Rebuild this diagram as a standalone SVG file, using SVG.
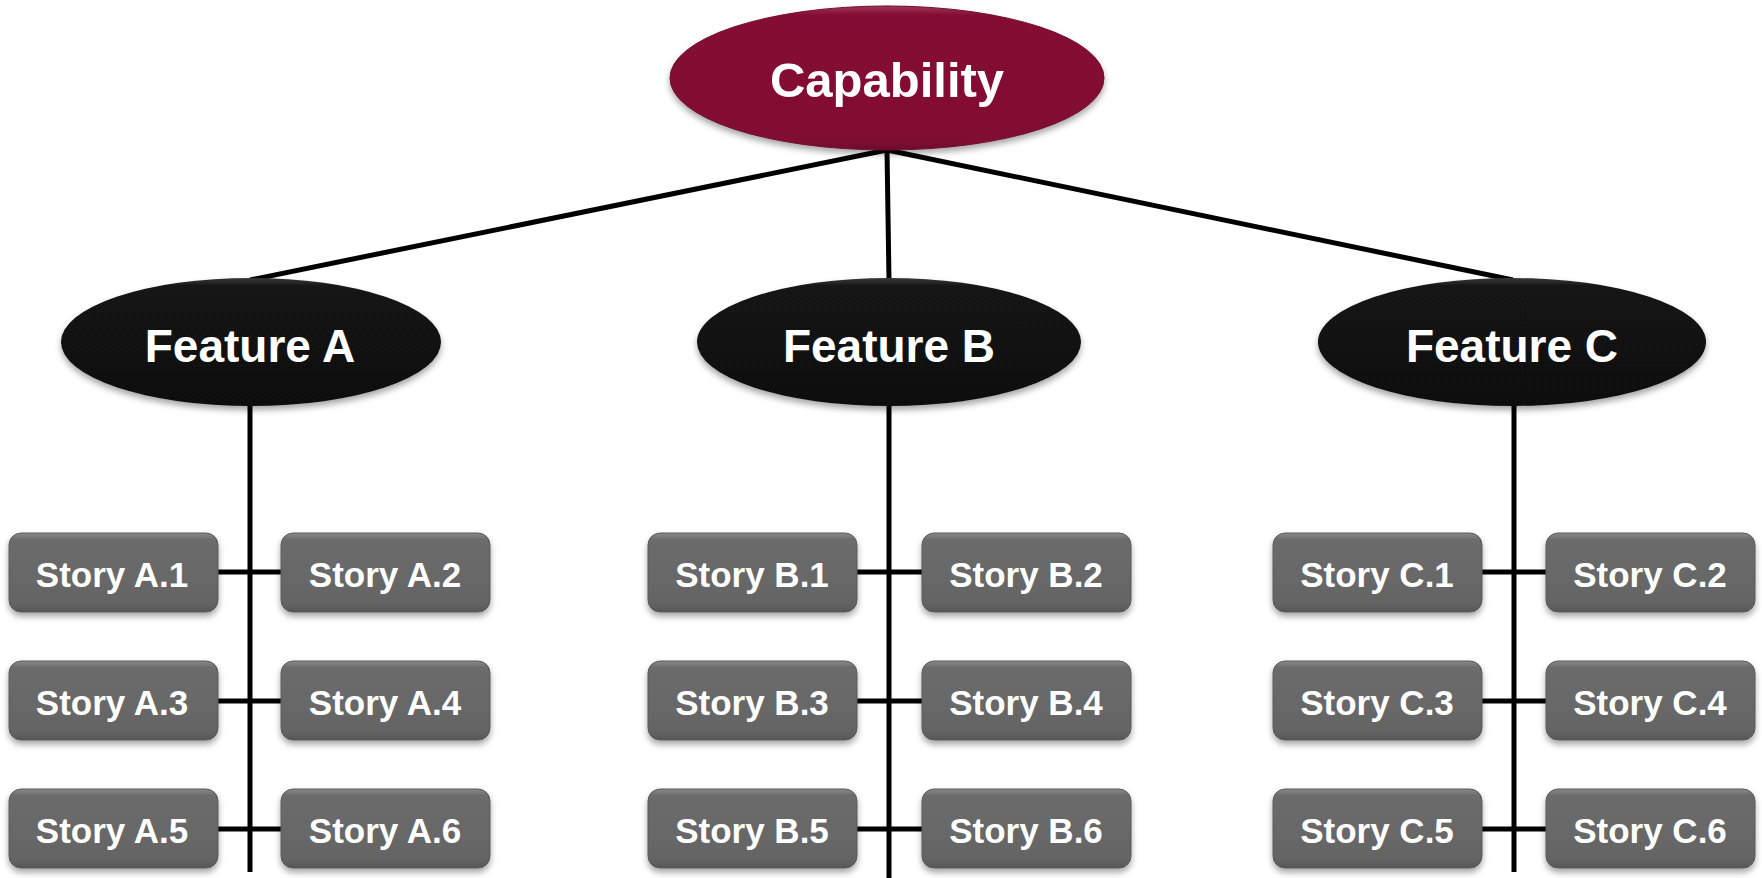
<svg xmlns="http://www.w3.org/2000/svg" width="1762" height="878" viewBox="0 0 1762 878">
<defs>
<linearGradient id="gBox" x1="0" y1="0" x2="0" y2="1">
<stop offset="0" stop-color="#8a8a8a"/>
<stop offset="0.08" stop-color="#6c6c6c"/>
<stop offset="0.9" stop-color="#646464"/>
<stop offset="1" stop-color="#555"/>
</linearGradient>
<linearGradient id="gCap" x1="0" y1="0" x2="0" y2="1">
<stop offset="0" stop-color="#a0365a"/>
<stop offset="0.06" stop-color="#850f34"/>
<stop offset="0.94" stop-color="#820e32"/>
<stop offset="1" stop-color="#6a0b29"/>
</linearGradient>
<linearGradient id="gFeat" x1="0" y1="0" x2="0" y2="1">
<stop offset="0" stop-color="#3a3a3a"/>
<stop offset="0.07" stop-color="#121212"/>
<stop offset="1" stop-color="#111"/>
</linearGradient>
<filter id="sh" x="-10%" y="-10%" width="120%" height="130%">
<feDropShadow dx="0" dy="4" stdDeviation="3" flood-color="#000" flood-opacity="0.35"/>
</filter>
</defs>
<style>
.ln{stroke:#000;stroke-width:5;fill:none}
.box{fill:url(#gBox);stroke:#5a5a5a;stroke-width:1;filter:url(#sh)}
.st{font-family:"Liberation Sans",Arial,sans-serif;font-weight:bold;font-size:35px;fill:#fff;text-anchor:middle}
.ft{font-family:"Liberation Sans",Arial,sans-serif;font-weight:bold;font-size:46px;fill:#fff;text-anchor:middle}
.cap{font-family:"Liberation Sans",Arial,sans-serif;font-weight:bold;font-size:49px;fill:#fff;text-anchor:middle}
</style>
<rect width="1762" height="878" fill="#fff"/>
<g id="connectors">
<line class="ln" x1="887" y1="150" x2="250" y2="280"/>
<line class="ln" x1="887" y1="150" x2="889" y2="280"/>
<line class="ln" x1="887" y1="150" x2="1513" y2="280"/>
<line class="ln" x1="250" y1="400" x2="250" y2="872"/>
<line class="ln" x1="889" y1="400" x2="889" y2="878"/>
<line class="ln" x1="1514" y1="400" x2="1514" y2="872"/>
<line class="ln" x1="216" y1="572" x2="283" y2="572"/>
<line class="ln" x1="216" y1="701" x2="283" y2="701"/>
<line class="ln" x1="216" y1="829" x2="283" y2="829"/>
<line class="ln" x1="855" y1="572" x2="924" y2="572"/>
<line class="ln" x1="855" y1="701" x2="924" y2="701"/>
<line class="ln" x1="855" y1="829" x2="924" y2="829"/>
<line class="ln" x1="1479" y1="572" x2="1548" y2="572"/>
<line class="ln" x1="1479" y1="701" x2="1548" y2="701"/>
<line class="ln" x1="1479" y1="829" x2="1548" y2="829"/>
</g>
<g id="capability">
<ellipse cx="887" cy="78" rx="217" ry="72" fill="url(#gCap)" stroke="#6e0c2a" stroke-width="1" filter="url(#sh)"/>
<text class="cap" x="887" y="97">Capability</text>
</g>
<g id="featureA">
<ellipse cx="251" cy="342" rx="190" ry="64" fill="url(#gFeat)" filter="url(#sh)"/>
<text class="ft" x="250" y="362">Feature A</text>
</g>
<g id="featureB">
<ellipse cx="889" cy="342" rx="192" ry="64" fill="url(#gFeat)" filter="url(#sh)"/>
<text class="ft" x="889" y="362">Feature B</text>
</g>
<g id="featureC">
<ellipse cx="1512" cy="342" rx="194" ry="64" fill="url(#gFeat)" filter="url(#sh)"/>
<text class="ft" x="1512" y="362">Feature C</text>
</g>
<g id="storyA1"><rect class="box" x="9" y="533" width="209" height="79" rx="12"/><text class="st" x="112" y="587">Story A.1</text></g>
<g id="storyA2"><rect class="box" x="281" y="533" width="209" height="79" rx="12"/><text class="st" x="385" y="587">Story A.2</text></g>
<g id="storyA3"><rect class="box" x="9" y="661" width="209" height="79" rx="12"/><text class="st" x="112" y="715">Story A.3</text></g>
<g id="storyA4"><rect class="box" x="281" y="661" width="209" height="79" rx="12"/><text class="st" x="385" y="715">Story A.4</text></g>
<g id="storyA5"><rect class="box" x="9" y="789" width="209" height="79" rx="12"/><text class="st" x="112" y="843">Story A.5</text></g>
<g id="storyA6"><rect class="box" x="281" y="789" width="209" height="79" rx="12"/><text class="st" x="385" y="843">Story A.6</text></g>
<g id="storyB1"><rect class="box" x="648" y="533" width="209" height="79" rx="12"/><text class="st" x="752" y="587">Story B.1</text></g>
<g id="storyB2"><rect class="box" x="922" y="533" width="209" height="79" rx="12"/><text class="st" x="1026" y="587">Story B.2</text></g>
<g id="storyB3"><rect class="box" x="648" y="661" width="209" height="79" rx="12"/><text class="st" x="752" y="715">Story B.3</text></g>
<g id="storyB4"><rect class="box" x="922" y="661" width="209" height="79" rx="12"/><text class="st" x="1026" y="715">Story B.4</text></g>
<g id="storyB5"><rect class="box" x="648" y="789" width="209" height="79" rx="12"/><text class="st" x="752" y="843">Story B.5</text></g>
<g id="storyB6"><rect class="box" x="922" y="789" width="209" height="79" rx="12"/><text class="st" x="1026" y="843">Story B.6</text></g>
<g id="storyC1"><rect class="box" x="1273" y="533" width="209" height="79" rx="12"/><text class="st" x="1377" y="587">Story C.1</text></g>
<g id="storyC2"><rect class="box" x="1546" y="533" width="209" height="79" rx="12"/><text class="st" x="1650" y="587">Story C.2</text></g>
<g id="storyC3"><rect class="box" x="1273" y="661" width="209" height="79" rx="12"/><text class="st" x="1377" y="715">Story C.3</text></g>
<g id="storyC4"><rect class="box" x="1546" y="661" width="209" height="79" rx="12"/><text class="st" x="1650" y="715">Story C.4</text></g>
<g id="storyC5"><rect class="box" x="1273" y="789" width="209" height="79" rx="12"/><text class="st" x="1377" y="843">Story C.5</text></g>
<g id="storyC6"><rect class="box" x="1546" y="789" width="209" height="79" rx="12"/><text class="st" x="1650" y="843">Story C.6</text></g>
</svg>
